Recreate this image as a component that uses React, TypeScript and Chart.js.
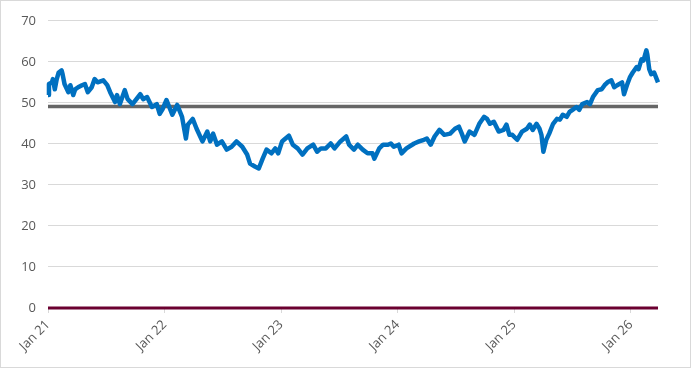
import React, { useEffect, useRef } from "react";
import { Chart, registerables } from "chart.js";

Chart.register(...registerables);

// x positions in months since Jan 2021
const monthsSinceJan21: number[] = [
  0, 0.1, 0.4, 0.5, 0.7, 0.9, 1.1, 1.4, 1.5, 1.7, 2.1, 2.3, 2.6, 2.8, 3.1, 3.5, 3.8, 4.1, 4.5, 4.8,
  5.1, 5.7, 6.1, 6.4, 6.9, 7.1, 7.4, 7.9, 8.2, 8.7, 9.5, 9.8, 10.2, 10.7, 11.2, 11.5, 11.8,
  12.2, 12.8, 13.3, 13.8, 14.2, 14.4, 14.9, 15.3, 15.9, 16.4, 16.7, 17.0, 17.4, 17.9, 18.4, 18.9,
  19.4, 20.0, 20.5, 20.8, 21.3, 21.7, 22.1, 22.5, 23.0, 23.4, 23.7, 24.1,
  24.3, 24.8, 25.2, 25.7, 26.2, 26.7, 27.3, 27.7, 28.1, 28.6, 29.1, 29.5, 30.1, 30.7, 31.0, 31.5,
  31.9, 32.4, 32.9, 33.4, 33.6, 34.1, 34.5, 35.0, 35.3, 35.6, 36.1,
  36.4, 36.9, 37.7, 38.2, 38.7, 39.0, 39.4, 39.8, 40.3, 40.8, 41.4, 41.9, 42.3, 42.6, 42.9, 43.4,
  43.9, 44.4, 44.9, 45.2, 45.5, 45.9, 46.4, 46.9, 47.2, 47.5, 47.8, 48.3, 48.8, 49.3, 49.6, 49.9,
  50.3, 50.6, 50.8, 51.0, 51.3, 51.6, 52.0, 52.4, 52.7, 53.0, 53.4, 53.7, 54.0, 54.4, 54.7, 55.0,
  55.5, 55.8, 56.1, 56.3, 56.6, 57.0, 57.3, 57.6, 58.0, 58.3, 58.6, 59.1, 59.3, 59.6, 59.9, 60.2,
  60.6, 60.8, 61.1, 61.3, 61.6, 61.7, 61.9, 62.1, 62.4, 62.8,
];

const seriesValues: number[] = [
  51.9, 54.6, 55, 55.8, 53.3, 55.8, 57.4, 57.9, 57, 54.6, 52.6, 54.3, 51.9, 53.3, 53.8, 54.3, 54.6, 52.6, 53.8, 55.8,
  55, 55.5, 54.3, 52.6, 50.2, 51.9, 49.7, 53.1, 50.9, 49.7, 52.1, 50.9, 51.4, 49, 49.7, 47.3, 48.5,
  50.7, 47.1, 49.5, 46.6, 41.3, 44.7, 46.1, 43.7, 40.6, 43, 40.6, 42.5, 39.8, 40.6, 38.6, 39.3,
  40.6, 39.3, 37.4, 35.2, 34.5, 34, 36.4, 38.6, 37.7, 38.9, 37.7, 40.6,
  41, 42, 39.8, 38.9, 37.4, 38.9, 39.8, 38.1, 38.9, 38.9, 40.1, 38.9, 40.6, 41.8, 39.8, 38.6,
  39.8, 38.6, 37.7, 37.7, 36.4, 38.9, 39.8, 39.8, 40.1, 39.3, 39.8,
  37.7, 38.9, 40.1, 40.6, 41, 41.3, 39.8, 41.8, 43.4, 42.2, 42.5, 43.7, 44.2, 42.5, 40.6, 43,
  42.2, 44.9, 46.6, 46.1, 44.9, 45.4, 43, 43.4, 44.7, 42.2, 42.2, 41, 43, 43.7, 44.7, 43.4,
  44.9, 43.7, 42.2, 38.1, 41, 42.5, 44.9, 46.1, 45.9, 47.1, 46.6, 47.8, 48.3, 49, 48.3, 49.7,
  50.2, 49.7, 51.4, 52.1, 53.1, 53.3, 54.3, 55, 55.5, 53.8, 54.3, 55, 52.1, 54.3, 56.2, 57.4,
  58.7, 58.2, 60.6, 60.3, 62.8, 61.8, 58.2, 57, 57.4, 55,
];

const averageLevel = 49.1;
const zeroLevel = 0;
const tickMonths: number[] = [0, 12, 24, 36, 48, 60];
const tickLabels: string[] = ["Jan 21", "Jan 22", "Jan 23", "Jan 24", "Jan 25", "Jan 26"];

export default function App() {
  const canvasRef = useRef<HTMLCanvasElement | null>(null);

  useEffect(() => {
    if (!canvasRef.current) return;
    const xEnd = monthsSinceJan21[monthsSinceJan21.length - 1];
    const xStart = monthsSinceJan21[0];
    const chart = new Chart(canvasRef.current, {
      type: "line",
      data: {
        datasets: [
          {
            data: monthsSinceJan21.map((m, i) => ({ x: m, y: seriesValues[i] })),
            borderColor: "#0070C0",
            borderWidth: 4.5,
            pointRadius: 0,
            tension: 0,
            borderJoinStyle: "round",
            clip: false,
          },
          {
            data: [
              { x: xStart, y: averageLevel },
              { x: xEnd, y: averageLevel },
            ],
            borderColor: "#666666",
            borderWidth: 3.5,
            pointRadius: 0,
            clip: false,
          },
          {
            data: [
              { x: xStart, y: zeroLevel },
              { x: xEnd, y: zeroLevel },
            ],
            borderColor: "#6B0030",
            borderWidth: 3,
            pointRadius: 0,
            clip: false,
          },
        ],
      },
      options: {
        responsive: false,
        animation: false,
        layout: { padding: { left: 0, right: 32, top: 17, bottom: 0 } },
        plugins: { legend: { display: false }, tooltip: { enabled: false } },
        scales: {
          x: {
            type: "linear",
            min: xStart,
            max: xEnd,
            afterBuildTicks: (scale: any) => {
              scale.ticks = tickMonths.map((v) => ({ value: v }));
            },
            afterFit: (scale: any) => {
              scale.height = 59;
            },
            grid: {
              drawOnChartArea: false,
              drawTicks: true,
              tickLength: 5,
              color: "#d9d9d9",
            },
            border: { display: false },
            ticks: {
              minRotation: 45,
              maxRotation: 45,
              autoSkip: false,
              padding: 4,
              color: "#595959",
              font: { family: "Open Sans", size: 13 },
              callback: (v: any) => {
                const i = tickMonths.indexOf(Number(v));
                return i >= 0 ? tickLabels[i] : "";
              },
            },
          },
          y: {
            min: 0,
            max: 70,
            afterFit: (scale: any) => {
              scale.width = 47;
            },
            grid: { color: "#d9d9d9", drawTicks: false, lineWidth: 1 },
            border: { display: false },
            ticks: {
              stepSize: 10,
              padding: 12,
              color: "#595959",
              font: { family: "Open Sans", size: 13 },
            },
          },
        },
      },
    } as any);
    return () => chart.destroy();
  }, []);

  return (
    <div
      style={{
        position: "fixed",
        left: 0,
        top: 0,
        width: 691,
        height: 368,
        boxSizing: "border-box",
        border: "1px solid #d9d9d9",
        background: "#ffffff",
      }}
    >
      <canvas ref={canvasRef} width={689} height={366} style={{ display: "block" }} />
    </div>
  );
}
